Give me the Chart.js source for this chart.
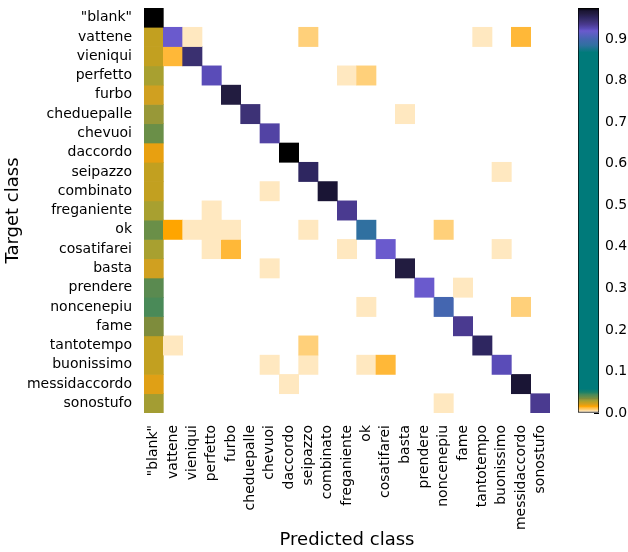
<!DOCTYPE html>
<html>
<head>
<meta charset="utf-8">
<script src="https://cdn.jsdelivr.net/npm/chart.js@4/dist/chart.umd.min.js"></script>
<style>
  html, body { margin: 0; padding: 0; background: #fff; }
  #wrap { position: relative; width: 628px; height: 552px; }
  canvas { position: absolute; left: 0; top: 0; }
</style>
</head>
<body>
<div id="wrap">
  <canvas id="matrix" width="628" height="552"></canvas>
  <canvas id="colorbar" width="628" height="552"></canvas>
</div>
<script>
// class names, same order on both axes
const classes = ['"blank"', 'vattene', 'vieniqui', 'perfetto', 'furbo', 'cheduepalle',
  'chevuoi', 'daccordo', 'seipazzo', 'combinato', 'freganiente', 'ok', 'cosatifarei',
  'basta', 'prendere', 'noncenepiu', 'fame', 'tantotempo', 'buonissimo',
  'messidaccordo', 'sonostufo'];

// correct predictions (row i, col i)
const diagonal = [0.975, 0.92, 0.945, 0.925, 0.962, 0.943, 0.93, 0.975, 0.952, 0.968,
  0.935, 0.885, 0.92, 0.962, 0.92, 0.90, 0.935, 0.952, 0.925, 0.968, 0.935];

// predicted as "blank" (column 0), row 0 is on the diagonal
const blankColumn = [0, 0.025, 0.025, 0.029, 0.022, 0.032, 0.038, 0.019, 0.025, 0.025,
  0.029, 0.038, 0.029, 0.022, 0.041, 0.044, 0.035, 0.025, 0.025, 0.020, 0.030];

// other confusions: [target row, predicted col, value]
const offDiagonal = [
  [1, 2, 0.004], [1, 8, 0.008], [1, 17, 0.004], [1, 19, 0.013],
  [2, 1, 0.013],
  [3, 10, 0.004], [3, 11, 0.008],
  [5, 13, 0.004],
  [8, 18, 0.004],
  [9, 6, 0.004],
  [10, 3, 0.004],
  [11, 1, 0.016], [11, 2, 0.004], [11, 3, 0.004], [11, 4, 0.004], [11, 8, 0.004], [11, 15, 0.008],
  [12, 3, 0.004], [12, 4, 0.013], [12, 10, 0.004], [12, 18, 0.004],
  [13, 6, 0.004],
  [14, 16, 0.004],
  [15, 11, 0.004], [15, 19, 0.008],
  [17, 1, 0.004], [17, 8, 0.008],
  [18, 6, 0.004], [18, 8, 0.004], [18, 11, 0.004], [18, 12, 0.013],
  [19, 7, 0.004],
  [20, 15, 0.004]
];

const colorbarTicks = [0, 0.1, 0.2, 0.3, 0.4, 0.5, 0.6, 0.7, 0.8, 0.9];
const colorbarMax = 0.975;

// colormap stops [value, colour]
const colorStops = [
  [0, '#fffaf0'], [0.004, '#ffe8c0'], [0.008, '#ffd07a'], [0.013, '#ffb838'],
  [0.016, '#ffa500'], [0.019, '#e8a010'], [0.022, '#d0a020'], [0.025, '#c2a020'],
  [0.029, '#a8a030'], [0.032, '#989838'], [0.035, '#7e8c3c'], [0.038, '#6a8f48'],
  [0.041, '#5a8a50'], [0.044, '#4a8a58'], [0.050, '#1a8068'], [0.058, '#007a7a'],
  [0.868, '#007a7a'], [0.885, '#3070a0'], [0.90, '#4466b0'], [0.92, '#6a5acd'],
  [0.925, '#5a4cb8'], [0.935, '#4a3a90'], [0.945, '#3a3070'], [0.952, '#2e2660'],
  [0.962, '#221c40'], [0.968, '#1a1535'], [0.975, '#000000']
];

function hexToRgb(h) {
  return [1, 3, 5].map(i => parseInt(h.slice(i, i + 2), 16));
}

function colormap(v) {
  if (v <= colorStops[0][0]) return colorStops[0][1];
  for (let i = 1; i < colorStops.length; i++) {
    const [v1, c1] = colorStops[i];
    if (v <= v1) {
      const [v0, c0] = colorStops[i - 1];
      const t = (v - v0) / (v1 - v0);
      const a = hexToRgb(c0), b = hexToRgb(c1);
      const rgb = a.map((x, k) => Math.round(x + (b[k] - x) * t));
      return `rgb(${rgb[0]},${rgb[1]},${rgb[2]})`;
    }
  }
  return colorStops[colorStops.length - 1][1];
}

// build the grid from the arrays above
const matrix = classes.map(() => classes.map(() => 0));
diagonal.forEach((v, i) => { matrix[i][i] = v; });
blankColumn.forEach((v, r) => { if (v) matrix[r][0] = v; });
offDiagonal.forEach(([r, c, v]) => { matrix[r][c] = v; });

Chart.defaults.font.family = 'DejaVu Sans';
Chart.defaults.font.size = 14;
Chart.defaults.color = '#000';

// keep the plot box fixed: no extra room for half label heights
function noScalePadding(s) {
  s.paddingTop = 0;
  s.paddingBottom = 0;
  s.paddingLeft = 0;
  s.paddingRight = 0;
}

// one dataset per target row, each cell is a floating bar [r-0.5, r+0.5]
const datasets = matrix.map((row, r) => ({
  label: classes[r],
  data: row.map(v => v > 0 ? [r - 0.5, r + 0.5] : null),
  backgroundColor: row.map(v => colormap(v)),
  borderWidth: 0,
  barPercentage: 1,
  categoryPercentage: 1,
  grouped: false
}));

new Chart(document.getElementById('matrix'), {
  type: 'bar',
  data: { labels: classes, datasets: datasets },
  options: {
    responsive: false,
    animation: false,
    layout: { padding: { left: 0, top: 8, right: 78, bottom: 0 } },
    plugins: { legend: { display: false }, tooltip: { enabled: false } },
    scales: {
      x: {
        type: 'category',
        grid: { display: false },
        border: { display: false },
        ticks: { autoSkip: false, maxRotation: 90, minRotation: 90, padding: 4 },
        title: { display: true, text: 'Predicted class', font: { size: 18 }, padding: { top: 0, bottom: 1 } },
        afterFit: s => { s.height = 139; noScalePadding(s); }
      },
      y: {
        type: 'linear',
        reverse: true,
        min: -0.5,
        max: 20.5,
        grid: { display: false },
        border: { display: false },
        afterBuildTicks: s => { s.ticks = classes.map((_, i) => ({ value: i })); },
        ticks: { padding: 4, callback: v => classes[v] },
        title: { display: true, text: 'Target class', font: { size: 18 }, padding: { top: 3, bottom: 0 } },
        afterFit: s => { s.width = 144; noScalePadding(s); }
      }
    }
  }
});

// colour bar: one bar filled with the colormap gradient
new Chart(document.getElementById('colorbar'), {
  type: 'bar',
  data: {
    labels: [''],
    datasets: [{
      data: [[0, colorbarMax]],
      backgroundColor: (ctx) => {
        const chart = ctx.chart;
        if (!chart.chartArea) return null;
        const y = chart.scales.y;
        const g = chart.ctx.createLinearGradient(0, y.getPixelForValue(0), 0, y.getPixelForValue(colorbarMax));
        colorStops.forEach(([v, c]) => g.addColorStop(Math.min(v / colorbarMax, 1), c));
        return g;
      },
      borderColor: '#000',
      borderWidth: 1,
      borderSkipped: false,
      barPercentage: 1,
      categoryPercentage: 1
    }]
  },
  options: {
    responsive: false,
    animation: false,
    layout: { padding: { left: 578, top: 8, right: 0, bottom: 139 } },
    plugins: { legend: { display: false }, tooltip: { enabled: false } },
    scales: {
      x: { display: false },
      y: {
        position: 'right',
        min: 0,
        max: colorbarMax,
        afterBuildTicks: s => { s.ticks = colorbarTicks.map(v => ({ value: v })); },
        ticks: { padding: 11, callback: v => v.toFixed(1) },
        grid: { drawOnChartArea: false, tickLength: -5, color: '#000' },
        border: { display: false },
        afterFit: s => { s.width = 29; noScalePadding(s); }
      }
    }
  }
});
</script>
</body>
</html>
